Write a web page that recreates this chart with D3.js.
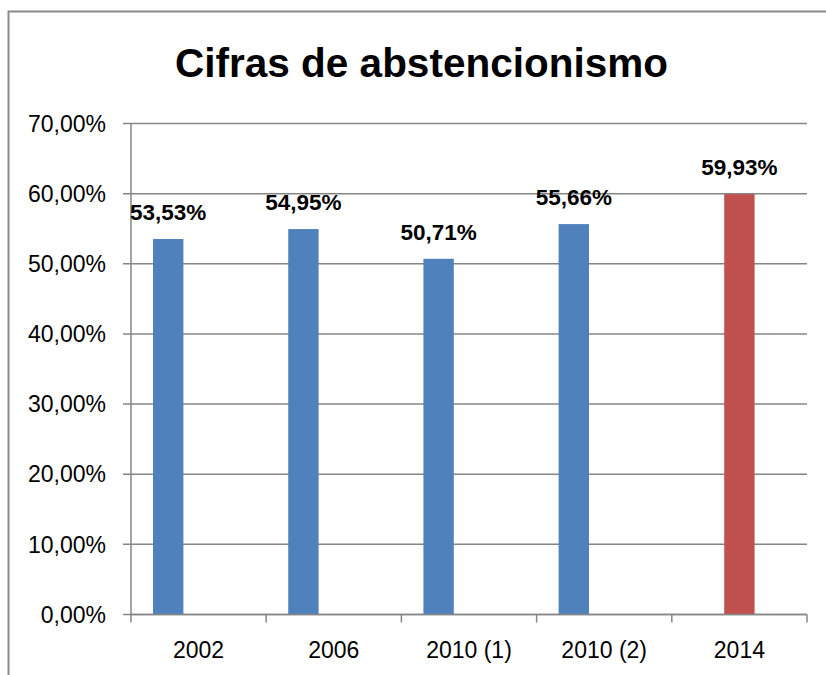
<!DOCTYPE html>
<html>
<head>
<meta charset="utf-8">
<script src="https://cdn.jsdelivr.net/npm/d3@7"></script>
<style>
  html, body { margin: 0; padding: 0; background: #fff; }
  svg { display: block; }
</style>
</head>
<body>
<svg id="chart" width="826" height="675"></svg>
<script>
const title = "Cifras de abstencionismo";
const categories = ["2002", "2006", "2010 (1)", "2010 (2)", "2014"];
const seriesBlue = [53.53, 54.95, 50.71, 55.66, null];
const seriesRed = [null, null, null, null, 59.93];
const yTicks = [0, 10, 20, 30, 40, 50, 60, 70];
const labels = ["53,53%", "54,95%", "50,71%", "55,66%", "59,93%"];

(function () {
const svg = d3.select("#chart");
const W = 826, H = 675;
const pLeft = 131, pRight = 807, pTop = 123.5, pBottom = 614.5;
const gridColor = "#868686";
const font = "'Liberation Sans', Arial, sans-serif";

// outer frame (top and left lines)
svg.append("path")
  .attr("d", `M8.5,${H} L8.5,11.5 L${W},11.5`)
  .attr("fill", "none").attr("stroke", "#8a8a8a").attr("stroke-width", 2);

// title
svg.append("text")
  .attr("x", 421.5).attr("y", 77)
  .attr("text-anchor", "middle")
  .attr("font-family", font).attr("font-weight", "bold")
  .attr("font-size", 40.5).attr("fill", "#000")
  .text(title);

const x = d3.scaleBand().domain(categories).range([pLeft, pRight]).padding(0);
const slot = d3.scaleBand().domain([0, 1, 2]).range([0, x.bandwidth()])
  .paddingInner(0).paddingOuter(0.725);
const y = d3.scaleLinear().domain([0, 70]).range([pBottom, pTop]);

// gridlines + y tick marks
svg.append("g").selectAll("line").data(yTicks).join("line")
  .attr("x1", pLeft - 8).attr("x2", pRight)
  .attr("y1", d => y(d)).attr("y2", d => y(d))
  .attr("stroke", gridColor).attr("stroke-width", 1.5);

// y axis line
svg.append("line")
  .attr("x1", pLeft).attr("x2", pLeft).attr("y1", pTop).attr("y2", pBottom)
  .attr("stroke", gridColor).attr("stroke-width", 1.5);

// y tick labels
const fmt = v => d3.format(".2f")(v).replace(".", ",") + "%";
svg.append("g").selectAll("text").data(yTicks).join("text")
  .attr("x", 106).attr("y", d => y(d))
  .attr("dy", "0.36em")
  .attr("text-anchor", "end")
  .attr("font-family", font).attr("font-size", 23).attr("fill", "#000")
  .text(d => fmt(d));

// bars
function drawSeries(values, slotIdx, color) {
  const data = values.map((v, i) => ({ c: categories[i], v, i })).filter(d => d.v != null);
  svg.append("g").selectAll("rect").data(data).join("rect")
    .attr("x", d => x(d.c) + slot(slotIdx))
    .attr("width", slot.bandwidth())
    .attr("y", d => y(d.v))
    .attr("height", d => y(0) - y(d.v))
    .attr("fill", color);
  svg.append("g").selectAll("text").data(data).join("text")
    .attr("x", d => x(d.c) + slot(slotIdx) + slot.bandwidth() / 2)
    .attr("y", d => y(d.v) - 19)
    .attr("text-anchor", "middle")
    .attr("font-family", font).attr("font-weight", "bold")
    .attr("font-size", 22.5).attr("fill", "#000")
    .text(d => labels[d.i]);
}
drawSeries(seriesBlue, 0, "#4F81BD");
drawSeries(seriesRed, 1, "#C0504D");

// x axis line
svg.append("line")
  .attr("x1", pLeft).attr("x2", pRight).attr("y1", pBottom).attr("y2", pBottom)
  .attr("stroke", gridColor).attr("stroke-width", 1.5);

// x tick marks at category boundaries
const bounds = categories.map(c => x(c)).concat([pRight]);
svg.append("g").selectAll("line").data(bounds).join("line")
  .attr("x1", d => d).attr("x2", d => d)
  .attr("y1", pBottom).attr("y2", pBottom + 8)
  .attr("stroke", gridColor).attr("stroke-width", 1.5);

// x labels
svg.append("g").selectAll("text").data(categories).join("text")
  .attr("x", d => x(d) + x.bandwidth() / 2)
  .attr("y", 658)
  .attr("text-anchor", "middle")
  .attr("font-family", font).attr("font-size", 23).attr("fill", "#000")
  .text(d => d);
})();
</script>
</body>
</html>
